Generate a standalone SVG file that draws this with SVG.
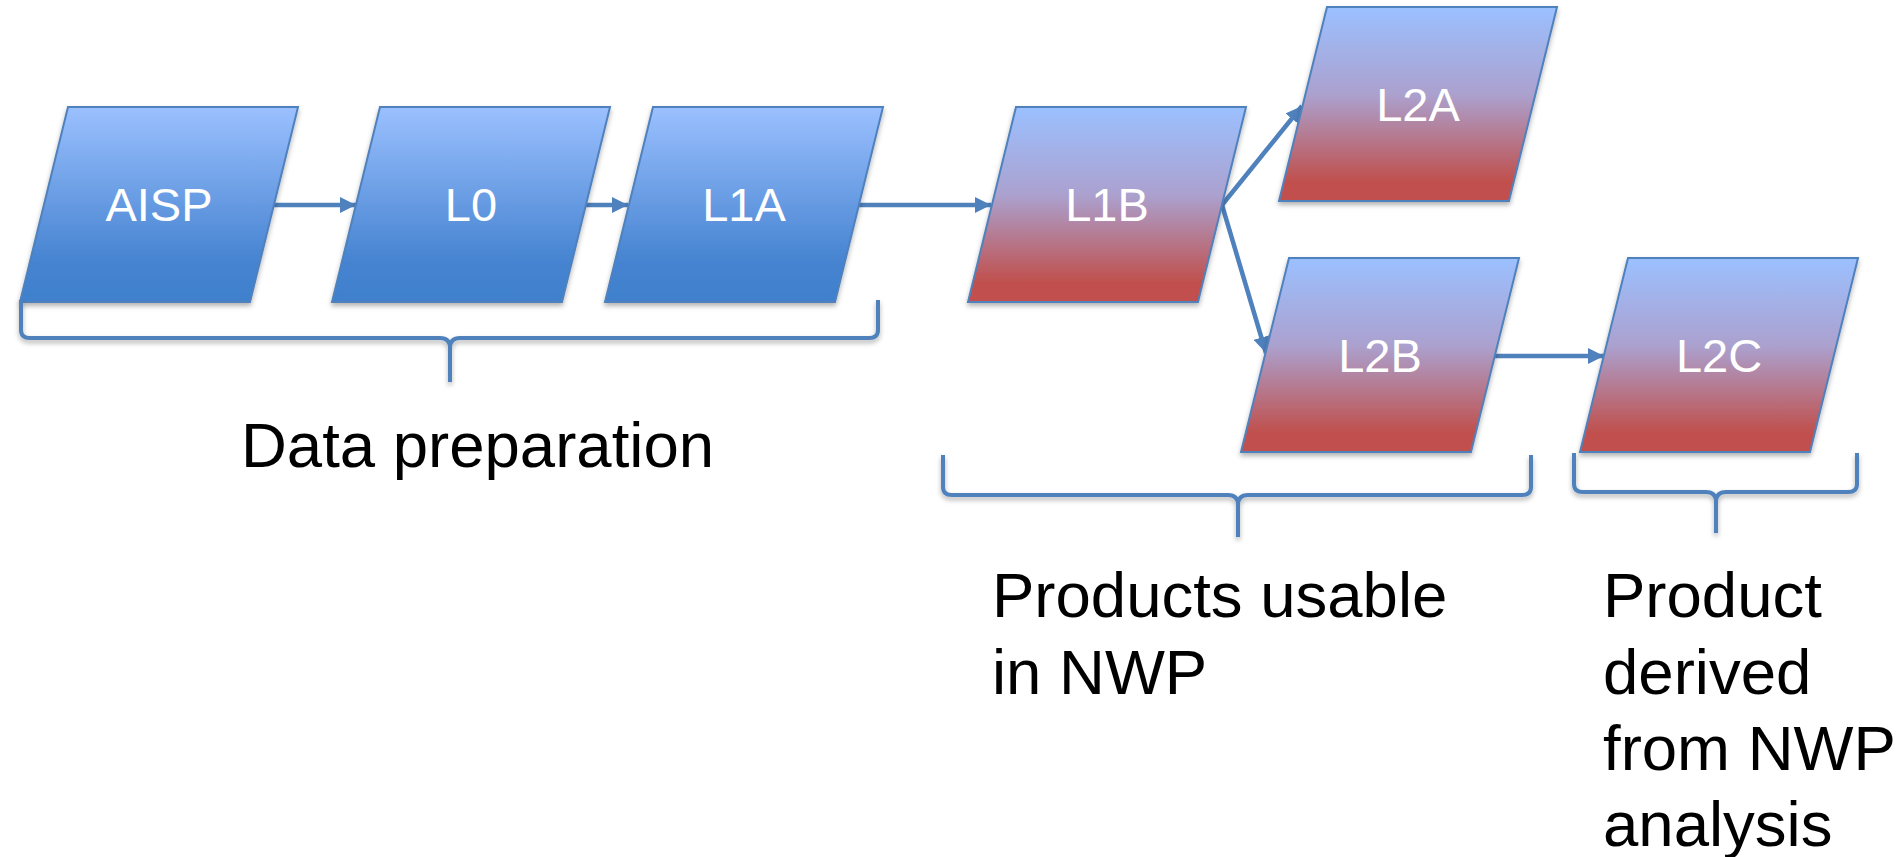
<svg xmlns="http://www.w3.org/2000/svg" width="1900" height="857" viewBox="0 0 1900 857">
<style>
.node{stroke:#4F81BD;stroke-width:2;filter:url(#sh)}
.blue{fill:url(#gBlue)}
.red{fill:url(#gRed)}
.lbl{font-family:"Liberation Sans",Arial,sans-serif;font-size:47px;fill:#fff;text-anchor:middle}
.cap{font-family:"Liberation Sans",Arial,sans-serif;font-size:63.5px;fill:#000}
.conn{stroke:#4F81BD;stroke-width:4.5;fill:none;marker-end:url(#ah)}
.brace{stroke:#4F81BD;stroke-width:4;fill:none;filter:url(#sh)}
</style>
<defs>
<linearGradient id="gBlue" x1="0" y1="0" x2="0" y2="1">
<stop offset="0" stop-color="#9BC0FF"/>
<stop offset="0.8" stop-color="#4583D0"/>
<stop offset="1" stop-color="#4080CD"/>
</linearGradient>
<linearGradient id="gRed" x1="0" y1="0" x2="0" y2="1">
<stop offset="0" stop-color="#9BC0FF"/>
<stop offset="0.45" stop-color="#ABA1CF"/>
<stop offset="0.9" stop-color="#C0504D"/>
<stop offset="1" stop-color="#C0504D"/>
</linearGradient>
<filter id="sh" x="-10%" y="-10%" width="120%" height="130%">
<feDropShadow dx="0" dy="3" stdDeviation="2.5" flood-color="#000" flood-opacity="0.3"/>
</filter>
<marker id="ah" viewBox="0 0 10 10" refX="10" refY="5" markerWidth="3.6" markerHeight="3.6" orient="auto" markerUnits="strokeWidth">
<path d="M0,0 L10,5 L0,10 Z" fill="#4F81BD"/>
</marker>
</defs>
<g id="connectors">
<line class="conn" x1="274" y1="205" x2="356" y2="205"/>
<line class="conn" x1="586" y1="205" x2="628" y2="205"/>
<line class="conn" x1="858" y1="205" x2="991" y2="205"/>
<line class="conn" x1="1222" y1="205" x2="1302" y2="106"/>
<line class="conn" x1="1222" y1="205" x2="1266" y2="353"/>
<line class="conn" x1="1495" y1="356" x2="1604" y2="356"/>
</g>
<g id="AISP"><polygon class="node blue" points="68,107 298,107 250,302 20,302"/><text class="lbl" x="159" y="221">AISP</text></g>
<g id="L0"><polygon class="node blue" points="380,107 610,107 562,302 332,302"/><text class="lbl" x="471" y="221">L0</text></g>
<g id="L1A"><polygon class="node blue" points="653,107 883,107 835,302 605,302"/><text class="lbl" x="744" y="221">L1A</text></g>
<g id="L1B"><polygon class="node red" points="1016,107 1246,107 1198,302 968,302"/><text class="lbl" x="1107" y="221">L1B</text></g>
<g id="L2A"><polygon class="node red" points="1327,7 1557,7 1509,201 1279,201"/><text class="lbl" x="1418" y="121">L2A</text></g>
<g id="L2B"><polygon class="node red" points="1289,258 1519,258 1471,452 1241,452"/><text class="lbl" x="1380" y="372">L2B</text></g>
<g id="L2C"><polygon class="node red" points="1628,258 1858,258 1810,452 1580,452"/><text class="lbl" x="1719" y="372">L2C</text></g>
<g id="braces">
<path class="brace" d="M21,300 L21,330 Q21,338 30,338 L440,338 Q450,338 450,348 L450,382 M450,348 Q450,338 460,338 L869,338 Q878,338 878,330 L878,300"/>
<path class="brace" d="M943,455 L943,487 Q943,495 952,495 L1228,495 Q1238,495 1238,505 L1238,537 M1238,505 Q1238,495 1248,495 L1522,495 Q1531,495 1531,487 L1531,455"/>
<path class="brace" d="M1574,453 L1574,484 Q1574,492 1583,492 L1706,492 Q1716,492 1716,502 L1716,533 M1716,502 Q1716,492 1726,492 L1848,492 Q1857,492 1857,484 L1857,453"/>
</g>
<g id="captions">
<text class="cap" x="241" y="467">Data preparation</text>
<text class="cap" x="992" y="617">Products usable</text>
<text class="cap" x="992" y="694">in NWP</text>
<text class="cap" x="1603" y="617">Product</text>
<text class="cap" x="1603" y="694">derived</text>
<text class="cap" x="1603" y="770">from NWP</text>
<text class="cap" x="1603" y="846">analysis</text>
</g>
</svg>
